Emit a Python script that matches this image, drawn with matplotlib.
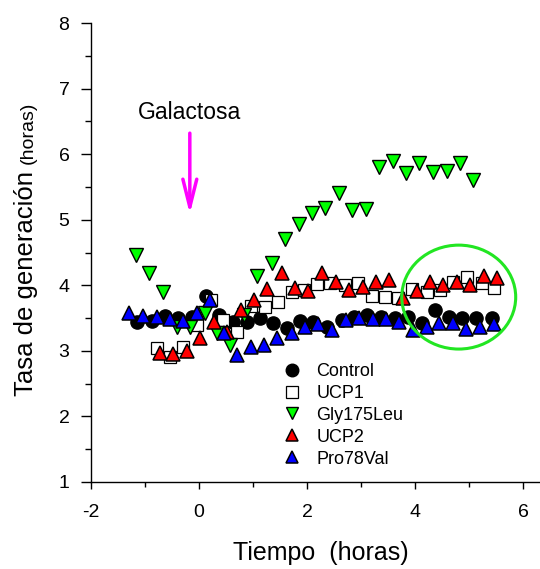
import matplotlib
matplotlib.use("Agg")
import matplotlib.pyplot as plt
from matplotlib.patches import Ellipse
from matplotlib.ticker import MultipleLocator

plt.rcParams['font.family'] = ['Liberation Sans', 'DejaVu Sans']
plt.rcParams['axes.unicode_minus'] = False

# ---- data ----
control_x = [-1.15, -0.87, -0.63, -0.39, -0.13, 0.13, 0.37, 0.63, 0.89, 1.13, 1.37, 1.63, 1.87, 2.11,
             2.37, 2.65, 2.87, 3.11, 3.37, 3.63, 3.87, 4.13, 4.37, 4.63, 4.87, 5.13, 5.43]
control_y = [3.44, 3.45, 3.53, 3.50, 3.52, 3.84, 3.55, 3.44, 3.44, 3.50, 3.42, 3.35, 3.45, 3.44,
             3.36, 3.47, 3.52, 3.55, 3.52, 3.50, 3.52, 3.42, 3.62, 3.52, 3.50, 3.50, 3.50]

ucp1_x = [-0.78, -0.54, -0.30, -0.04, 0.22, 0.44, 0.70, 0.96, 1.22, 1.46, 1.72, 1.94, 2.19,
          2.43, 2.70, 2.94, 3.20, 3.44, 3.69, 3.94, 4.22, 4.46, 4.70, 4.96, 5.24, 5.46]
ucp1_y = [3.04, 2.91, 3.06, 3.39, 3.77, 3.47, 3.29, 3.68, 3.67, 3.74, 3.90, 3.93, 4.02,
          4.03, 4.00, 4.03, 3.84, 3.82, 3.80, 3.94, 3.90, 3.93, 4.05, 4.13, 4.03, 3.96]

gly_x = [-1.17, -0.93, -0.67, -0.41, -0.17, 0.11, 0.33, 0.57, 0.83, 1.07, 1.35, 1.59, 1.85,
         2.09, 2.33, 2.59, 2.83, 3.09, 3.33, 3.59, 3.83, 4.07, 4.33, 4.59, 4.83, 5.07]
gly_y = [4.46, 4.19, 3.90, 3.36, 3.36, 3.58, 3.27, 3.09, 3.55, 4.14, 4.34, 4.70, 4.93,
         5.10, 5.18, 5.41, 5.15, 5.16, 5.80, 5.89, 5.71, 5.86, 5.73, 5.74, 5.86, 5.60]

ucp2_x = [-0.72, -0.48, -0.22, 0.02, 0.28, 0.52, 0.78, 1.02, 1.26, 1.54, 1.78, 2.02, 2.28,
          2.54, 2.78, 3.04, 3.28, 3.52, 3.78, 4.04, 4.28, 4.52, 4.78, 5.02, 5.28, 5.52]
ucp2_y = [2.97, 2.95, 3.00, 3.20, 3.44, 3.29, 3.62, 3.77, 3.94, 4.19, 3.96, 3.91, 4.19,
          4.05, 3.93, 3.97, 4.05, 4.08, 3.80, 3.91, 4.05, 4.00, 4.05, 4.00, 4.14, 4.11]

pro_x = [-1.30, -1.04, -0.78, -0.54, -0.30, -0.04, 0.20, 0.46, 0.70, 0.96, 1.20, 1.44, 1.72, 1.96,
         2.20, 2.46, 2.72, 2.96, 3.22, 3.46, 3.70, 3.96, 4.22, 4.44, 4.70, 4.94, 5.20, 5.46]
pro_y = [3.58, 3.53, 3.52, 3.48, 3.45, 3.58, 3.77, 3.27, 2.94, 3.06, 3.09, 3.20, 3.27, 3.36,
         3.41, 3.32, 3.47, 3.50, 3.48, 3.48, 3.44, 3.32, 3.36, 3.42, 3.42, 3.33, 3.36, 3.41]

series_labels = ["Control", "UCP1", "Gly175Leu", "UCP2", "Pro78Val"]
x_ticks = [-2, 0, 2, 4, 6]
y_ticks = [1, 2, 3, 4, 5, 6, 7, 8]

arrow_x = -0.17
arrow_top = 6.32
arrow_tip = 5.085
annot_text = "Galactosa"
annot_y = 6.64

ellipse_center = (4.81, 3.82)
ellipse_w = 2.11
ellipse_h = 1.585

# ---- figure ----
W, H = 540, 569
fig = plt.figure(figsize=(W / 100, H / 100), dpi=100)
ax = fig.add_axes([91 / W, 87 / H, 449 / W, 459 / H])

ms = 9.5
ax.plot(control_x, control_y, 'o', ms=ms, mfc='black', mec='black', mew=1, ls='none',
        label=series_labels[0], zorder=3)
ax.plot(ucp1_x, ucp1_y, 's', ms=8.8, mfc='white', mec='black', mew=0.9, ls='none',
        label=series_labels[1], zorder=3)
ax.plot(gly_x, gly_y, 'v', ms=ms, mfc='#00ff00', mec='black', mew=1, ls='none',
        label=series_labels[2], zorder=3)
ax.plot(ucp2_x, ucp2_y, '^', ms=ms, mfc='#ff0000', mec='black', mew=1.1, ls='none',
        label=series_labels[3], zorder=3)
ax.plot(pro_x, pro_y, '^', ms=ms, mfc='#0000ff', mec='black', mew=1.1, ls='none',
        label=series_labels[4], zorder=3)

ax.add_patch(Ellipse(ellipse_center, ellipse_w, ellipse_h, facecolor='none',
                     edgecolor='#22e622', lw=2.2, zorder=4))

ax.annotate('', xy=(arrow_x, arrow_tip), xytext=(arrow_x, arrow_top),
            arrowprops=dict(arrowstyle='->,head_length=1.0,head_width=0.25',
                            color='#ff00ff', lw=2.5, mutation_scale=20,
                            shrinkA=0, shrinkB=0))
ax.text(arrow_x, annot_y, annot_text, ha='center', va='center', fontsize=16.5)

ax.set_xlim(-2, 6.315)
ax.set_ylim(1, 8)
ax.set_xticks(x_ticks)
ax.set_yticks(y_ticks)
ax.xaxis.set_minor_locator(MultipleLocator(1))
ax.yaxis.set_minor_locator(MultipleLocator(0.5))
ax.spines['top'].set_visible(False)
ax.spines['right'].set_visible(False)
for s in ('left', 'bottom'):
    ax.spines[s].set_linewidth(1.0)
ax.tick_params(axis='x', which='major', direction='out', length=5, width=1, labelsize=14, pad=11)
ax.tick_params(axis='x', which='minor', direction='out', length=3.5, width=1)
ax.tick_params(axis='y', which='major', direction='out', length=7, width=1, labelsize=14, pad=8.5)
ax.tick_params(axis='y', which='minor', direction='out', length=4.5, width=1)

leg = ax.legend(loc='upper left', bbox_to_anchor=(283 / W, 1 - 363 / H),
                bbox_transform=fig.transFigure, frameon=False, fontsize=13,
                handlelength=1.0, handletextpad=0.85, labelspacing=0.27,
                borderpad=0, borderaxespad=0, markerscale=0.95)

# axis labels
fig.text(321 / W, 1 - 553 / H, "Tiempo  (horas)", ha='center', va='center', fontsize=18)

t1 = fig.text(33 / W, 1 - 396 / H, "Tasa de generación", rotation=90,
              rotation_mode='anchor', ha='left', va='baseline', fontsize=18.5)
fig.canvas.draw()
bb = t1.get_window_extent(renderer=fig.canvas.get_renderer())
fig.text(33 / W, (bb.y1 + 7) / H, "(horas)", rotation=90,
         rotation_mode='anchor', ha='left', va='baseline', fontsize=14)

fig.savefig("out.png", dpi=100)
